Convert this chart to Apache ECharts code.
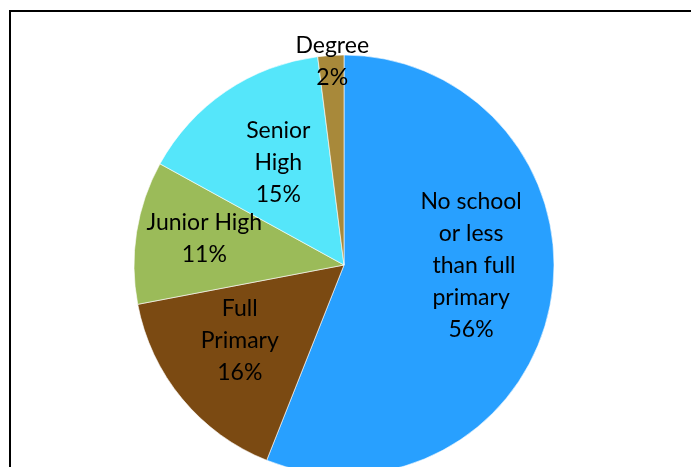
<!DOCTYPE html>
<html>
<head>
<meta charset="utf-8">
<script src="https://cdn.jsdelivr.net/npm/echarts@6/dist/echarts.min.js"></script>
<style>
  html, body { margin: 0; padding: 0; background: #fff; }
  #chart { width: 691px; height: 467px; }
</style>
</head>
<body>
<div id="chart"></div>
<script>
// Education attainment shares, clockwise from 12 o'clock
const categories = [
  'No school\nor less\n than full\nprimary',
  'Full\nPrimary',
  'Junior High',
  'Senior\nHigh',
  'Degree'
];
const shares = [56, 16, 11, 15, 2];
const sliceColors = ['#28a0ff', '#7b4a12', '#9bbb59', '#55e6fa', '#a8893a'];
// Nudges for each label away from the default inside position
const labelOffsets = [[21, -20], [-21, 7], [-33, -10], [-5, -13], [-5, -96]];

const chart = echarts.init(document.getElementById('chart'));
chart.setOption({
  animation: false,
  backgroundColor: '#ffffff',
  graphic: [{
    type: 'rect',
    shape: { x: 10, y: 11, width: 720, height: 500 },
    style: { fill: 'none', stroke: '#000', lineWidth: 2 },
    z: 100
  }],
  series: [{
    type: 'pie',
    center: [344, 265],
    radius: [0, 210],
    startAngle: 90,
    clockwise: true,
    avoidLabelOverlap: false,
    labelLayout: { hideOverlap: false },
    labelLine: { show: false },
    itemStyle: { borderColor: '#ffffff', borderWidth: 0.6 },
    label: {
      show: true,
      position: 'inside',
      formatter: p => p.name + '\n' + p.value + '%',
      fontFamily: 'Lato',
      fontSize: 23,
      lineHeight: 32,
      color: '#000',
      align: 'center'
    },
    data: categories.map((c, i) => ({
      name: c,
      value: shares[i],
      itemStyle: { color: sliceColors[i] },
      label: { offset: labelOffsets[i] }
    }))
  }]
});
</script>
</body>
</html>
